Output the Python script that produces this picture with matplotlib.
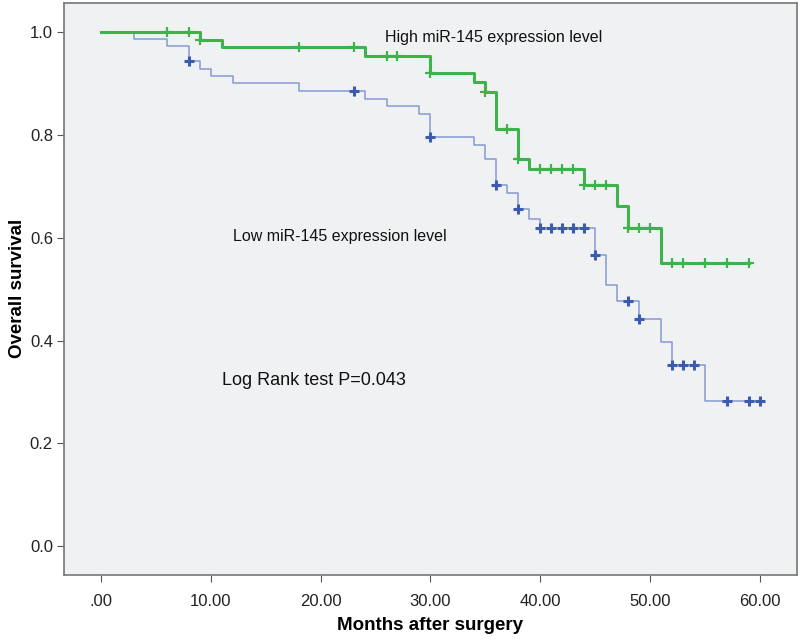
import numpy as np
import matplotlib
matplotlib.use("Agg")
import matplotlib.pyplot as plt

plt.rcParams['font.family'] = ['Liberation Sans', 'DejaVu Sans']

# Kaplan-Meier step data
high_times = [0, 9, 11, 24, 30, 34, 35, 36, 38, 39, 44, 47, 48, 51]
high_surv = [1.0, 0.984, 0.970, 0.953, 0.920, 0.902, 0.883, 0.812, 0.752,
             0.733, 0.702, 0.661, 0.619, 0.551]
high_end = 59
high_censor = [6, 8, 9, 18, 23, 26, 27, 30, 35, 37, 38, 40, 41, 42, 43, 44,
               45, 46, 48, 49, 50, 52, 53, 55, 57, 59]

low_times = [0, 3, 6, 8, 9, 10, 12, 18, 24, 26, 29, 30, 34, 35, 36, 37, 38,
             39, 40, 45, 46, 47, 49, 51, 52, 55]
low_surv = [1.0, 0.986, 0.972, 0.943, 0.928, 0.914, 0.900, 0.885, 0.870,
            0.856, 0.841, 0.796, 0.781, 0.752, 0.702, 0.687, 0.655, 0.637,
            0.618, 0.566, 0.507, 0.477, 0.441, 0.397, 0.353, 0.283]
low_end = 60
low_censor = [8, 23, 30, 36, 38, 40, 41, 42, 43, 44, 45, 48, 49, 52, 53, 54,
              57, 59, 60]

x_ticks = [0, 10, 20, 30, 40, 50, 60]
x_labels = ['.00', '10.00', '20.00', '30.00', '40.00', '50.00', '60.00']
y_ticks = [0.0, 0.2, 0.4, 0.6, 0.8, 1.0]


def level_at(times, surv, t):
    idx = np.searchsorted(times, t, side='right') - 1
    return np.asarray(surv)[idx]


def draw_curve(ax, times, surv, end, censor, line_color, mark_color, lw, ms, mew):
    xs = list(times) + [end]
    ys = list(surv) + [surv[-1]]
    ax.step(xs, ys, where='post', color=line_color, linewidth=lw, zorder=3)
    cy = level_at(times, surv, censor)
    ax.plot(censor, cy, linestyle='none', marker='+', color=mark_color,
            markersize=ms, markeredgewidth=mew, zorder=4)


fig = plt.figure(figsize=(8, 6.42), dpi=100)
ax = fig.add_axes([0.08, 0.105, 0.916, 0.891])
ax.set_facecolor('#f0f1f3')

draw_curve(ax, low_times, low_surv, low_end, low_censor,
           '#8799d4', '#3a5bb0', 1.1, 7.5, 2.2)
draw_curve(ax, high_times, high_surv, high_end, high_censor,
           '#3cb44b', '#3cb44b', 2.2, 7, 1.6)

ax.set_xlim(-3.4, 63.4)
ax.set_ylim(-0.055, 1.057)
ax.set_xticks(x_ticks)
ax.set_xticklabels(x_labels)
ax.set_yticks(y_ticks)
ax.set_yticklabels(['%.1f' % v for v in y_ticks])
ax.tick_params(direction='out', length=5, color='#555555', labelsize=12,
               labelcolor='#222222')
ax.tick_params(axis='x', pad=9)
ax.tick_params(axis='y', pad=3)

for sp in ax.spines.values():
    sp.set_color('#777777')
    sp.set_linewidth(1.2)

ax.set_xlabel('Months after surgery', fontsize=13.5, fontweight='bold', labelpad=6)
ax.set_ylabel('Overall survival', fontsize=13.5, fontweight='bold', labelpad=3)

ax.text(25.9, 0.989, 'High miR-145 expression level', fontsize=11.5,
        va='center', ha='left', color='#111111')
ax.text(12.0, 0.602, 'Low miR-145 expression level', fontsize=11.5,
        va='center', ha='left', color='#111111')
ax.text(11.0, 0.323, 'Log Rank test P=0.043', fontsize=13,
        va='center', ha='left', color='#111111')

fig.savefig('out.png', dpi=100)
